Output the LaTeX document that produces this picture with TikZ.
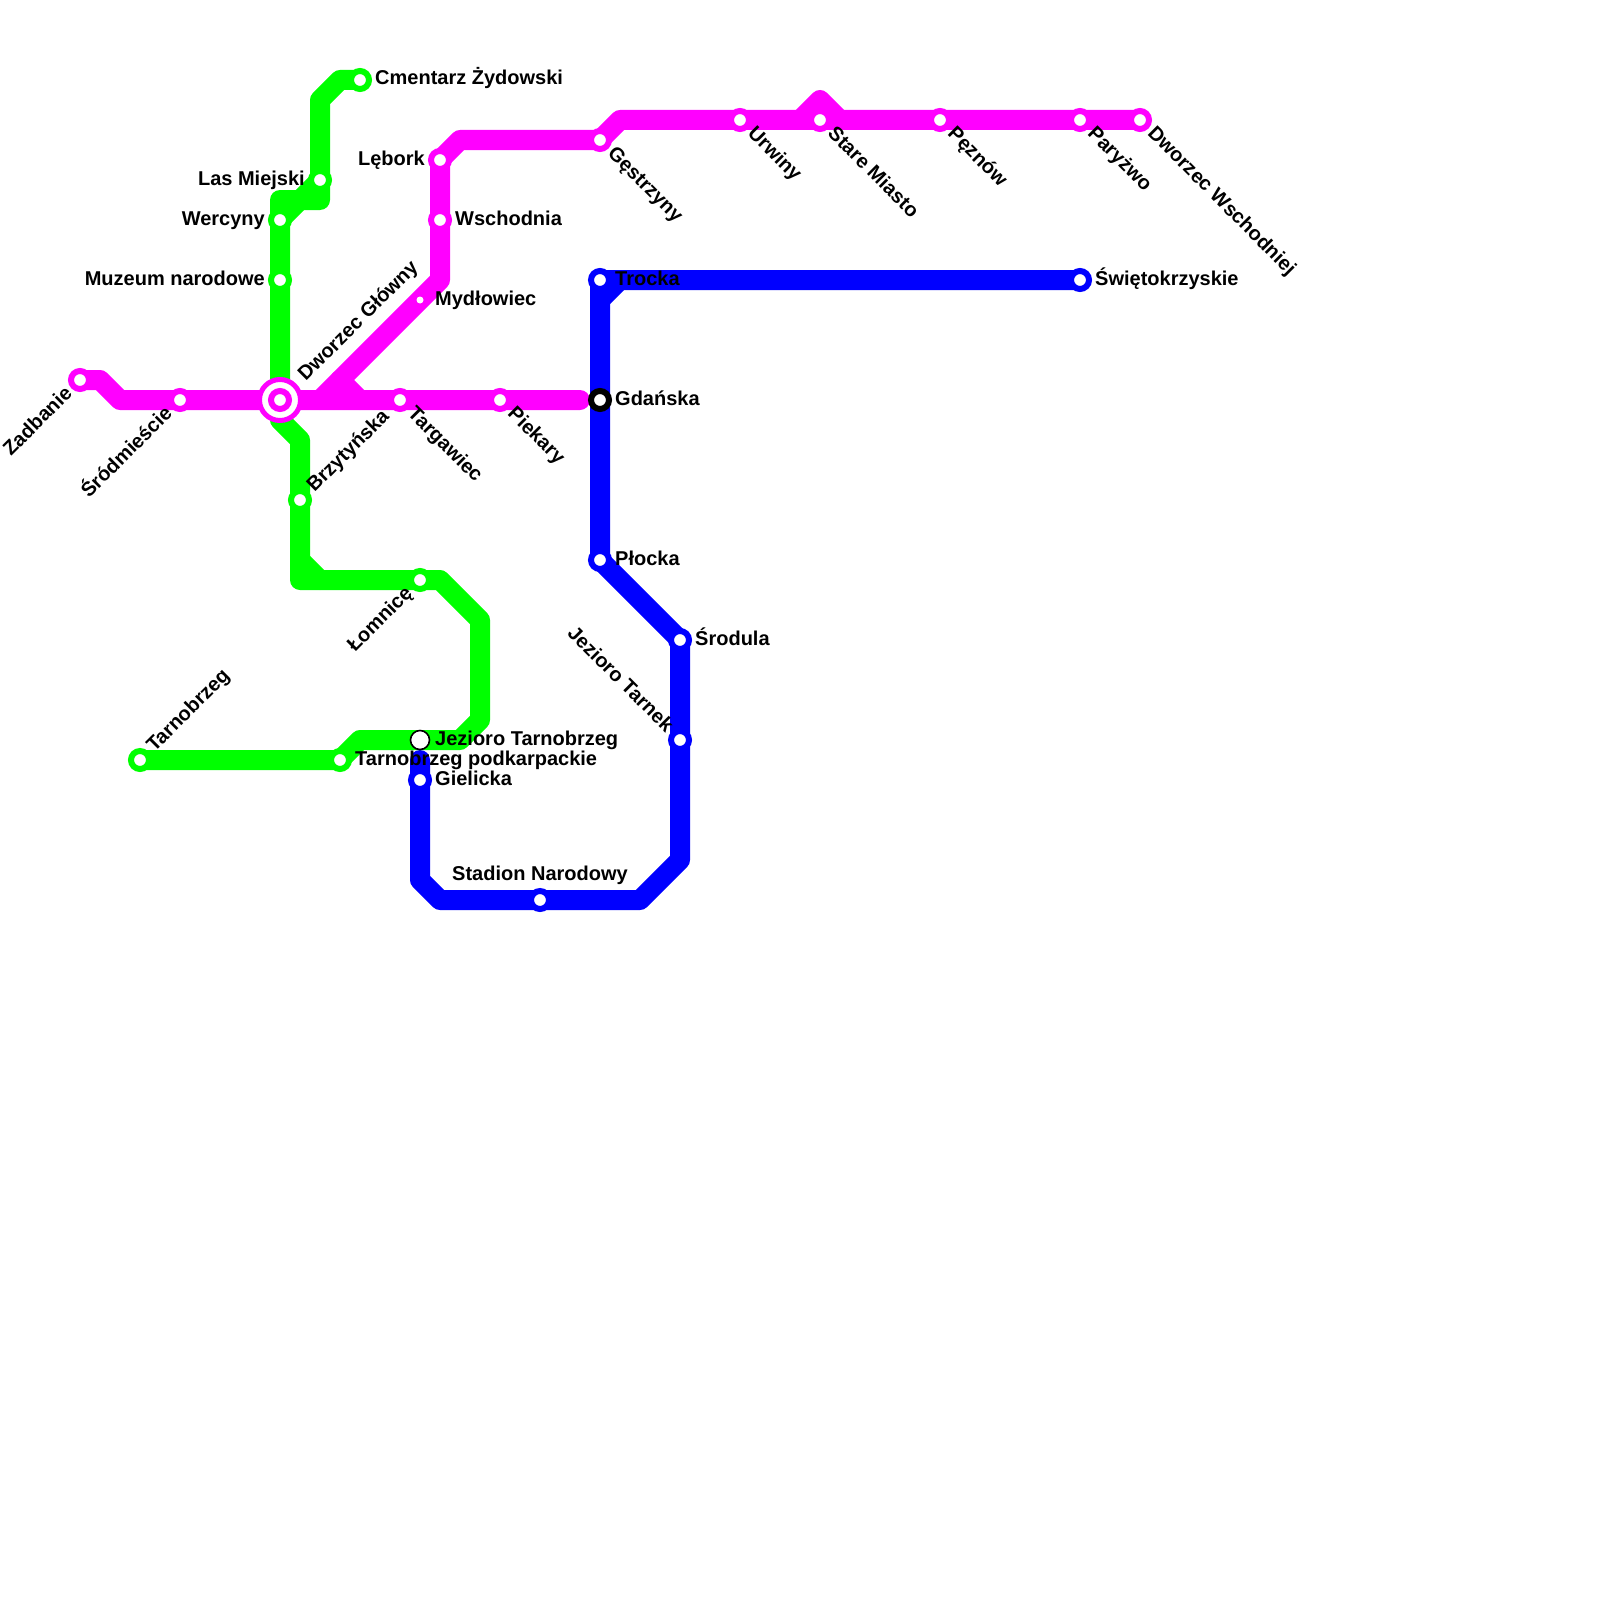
\documentclass[tikz,border=0pt]{standalone}
\usepackage{fontspec}
\setmainfont{Liberation Sans}
\usetikzlibrary{backgrounds}
\definecolor{lineM}{RGB}{255,0,255}
\definecolor{lineG}{RGB}{0,255,0}
\definecolor{lineB}{RGB}{0,0,255}
\tikzset{
  x=1pt,y=-1pt,
  metro/.style={line width=20pt,line cap=round,line join=round},
  stn/.style={circle,inner sep=0pt,outer sep=0pt,minimum size=18pt,line width=6pt,draw=#1,fill=white},
  hub/.style={circle,inner sep=0pt,outer sep=0pt,minimum size=41pt,line width=5pt,draw=lineM,fill=white},
  dotstn/.style={circle,inner sep=0pt,outer sep=0pt,minimum size=7pt,fill=white},
  opening/.style={circle,inner sep=0pt,outer sep=0pt,minimum size=19pt,line width=1.6pt,draw=black,fill=white},
  lbl/.style={font=\fontsize{20}{24}\selectfont\bfseries,inner sep=0pt,text=black},
  lblE/.style={lbl,xshift=15pt,yshift=-5pt,anchor=base west},
  lblW/.style={lbl,xshift=-15pt,yshift=-5pt,anchor=base east},
  lblNE/.style={lbl,xshift=14.5pt,yshift=7pt,rotate=45,anchor=base west},
  lblSW/.style={lbl,xshift=-6.7pt,yshift=-14.5pt,rotate=45,anchor=base east},
  lblSE/.style={lbl,xshift=6.7pt,yshift=-14.5pt,rotate=-45,anchor=base west},
  lblNW/.style={lbl,xshift=-14.5pt,yshift=6.7pt,rotate=-45,anchor=base east},
}
\begin{document}
\begin{tikzpicture}
\useasboundingbox (0,0) rectangle (1600,1600);
% stations
\node[stn=lineM] (zadbanie) at (80,380) {};
\node[stn=lineM] (srodmiescie) at (180,400) {};
\node[hub] (dworzecring) at (280,400) {};
\node[stn=lineM] (dworzec) at (280,400) {};
\node[stn=lineM] (targawiec) at (400,400) {};
\node[stn=lineM] (piekary) at (500,400) {};
\node[dotstn] (mydlowiec) at (420,300) {};
\node[stn=lineM] (wschodnia) at (440,220) {};
\node[stn=lineM] (lebork) at (440,160) {};
\node[stn=lineM] (gestrzyny) at (600,140) {};
\node[stn=lineM] (urwiny) at (740,120) {};
\node[stn=lineM] (stare) at (820,120) {};
\node[stn=lineM] (peznow) at (940,120) {};
\node[stn=lineM] (paryzwo) at (1080,120) {};
\node[stn=lineM] (wschodniej) at (1140,120) {};
\node[stn=lineG] (cmentarz) at (360,80) {};
\node[stn=lineG] (las) at (320,180) {};
\node[stn=lineG] (wercyny) at (280,220) {};
\node[stn=lineG] (muzeum) at (280,280) {};
\node[stn=lineG] (brzytynska) at (300,500) {};
\node[stn=lineG] (lomnice) at (420,580) {};
\node[stn=lineG] (tarnobrzeg) at (140,760) {};
\node[stn=lineG] (podkarp) at (340,760) {};
\node[opening] (jezioroT) at (420,740) {};
\node[stn=lineB] (trocka) at (600,280) {};
\node[stn=lineB] (swieto) at (1080,280) {};
\node[stn=black] (gdanska) at (600,400) {};
\node[stn=lineB] (plocka) at (600,560) {};
\node[stn=lineB] (srodula) at (680,640) {};
\node[stn=lineB] (tarnek) at (680,740) {};
\node[stn=lineB] (stadion) at (540,900) {};
\node[stn=lineB] (gielicka) at (420,780) {};
% free ends and bends
\coordinate (mEnd) at (580,400);
\coordinate (bEnd) at (420,760);
% lines
\begin{scope}[on background layer]
\draw[metro,lineB] (swieto.center) -- (trocka.center) -- (plocka.center) -- (srodula.center) -- (680,860) -- (640,900) -- (stadion.center) -- (440,900) -- (420,880) -- (gielicka.center) -- (bEnd);
\draw[metro,lineB] (600,300) -- (620,280);
\draw[metro,lineG] (cmentarz.center) -- (340,80) -- (320,100) -- (las.center) -- (320,200) -- (280,200) -- (wercyny.center) -- (muzeum.center) -- (dworzec.center) -- (280,420) -- (300,440) -- (brzytynska.center) -- (300,580) -- (lomnice.center) -- (440,580) -- (480,620) -- (480,720) -- (460,740) -- (360,740) -- (podkarp.center) -- (tarnobrzeg.center);
\draw[metro,lineG] (las.center) -- (wercyny.center);
\draw[metro,lineG] (300,560) -- (320,580);
\draw[metro,lineM] (zadbanie.center) -- (100,380) -- (120,400) -- (mEnd);
\draw[metro,lineM] (320,400) -- (mydlowiec.center) -- (440,280) -- (wschodnia.center) -- (lebork.center) -- (460,140) -- (gestrzyny.center) -- (620,120) -- (wschodniej.center);
\draw[metro,lineM] (340,380) -- (360,400);
\draw[metro,lineM] (800,120) -- (820,100) -- (840,120);
\end{scope}
% labels
\node[lblSW] (tZadbanie) at (zadbanie.center) {Zadbanie};
\node[lblSW] (tSrodmiescie) at (srodmiescie.center) {Śródmieście};
\node[lbl,xshift=25.8pt,yshift=18pt,rotate=45,anchor=base west] (tDworzec) at (dworzec.center) {Dworzec Główny};
\node[lblSE] (tTargawiec) at (targawiec.center) {Targawiec};
\node[lblSE] (tPiekary) at (piekary.center) {Piekary};
\node[lblE] (tMydlowiec) at (mydlowiec.center) {Mydłowiec};
\node[lblE] (tWschodnia) at (wschodnia.center) {Wschodnia};
\node[lblW] (tLebork) at (lebork.center) {Lębork};
\node[lblSE] (tGestrzyny) at (gestrzyny.center) {Gęstrzyny};
\node[lblSE] (tUrwiny) at (urwiny.center) {Urwiny};
\node[lblSE] (tStare) at (stare.center) {Stare Miasto};
\node[lblSE] (tPeznow) at (peznow.center) {Pęznów};
\node[lblSE] (tParyzwo) at (paryzwo.center) {Paryżwo};
\node[lblSE] (tWschodniej) at (wschodniej.center) {Dworzec Wschodniej};
\node[lblE] (tCmentarz) at (cmentarz.center) {Cmentarz Żydowski};
\node[lblW] (tLas) at (las.center) {Las Miejski};
\node[lblW] (tWercyny) at (wercyny.center) {Wercyny};
\node[lblW] (tMuzeum) at (muzeum.center) {Muzeum narodowe};
\node[lblNE] (tBrzytynska) at (brzytynska.center) {Brzytyńska};
\node[lblSW] (tLomnice) at (lomnice.center) {Łomnicę};
\node[lblNE] (tTarnobrzeg) at (tarnobrzeg.center) {Tarnobrzeg};
\node[lblE] (tPodkarp) at (podkarp.center) {Tarnobrzeg podkarpackie};
\node[lblE] (tJezioroT) at (jezioroT.center) {Jezioro Tarnobrzeg};
\node[lblE] (tTrocka) at (trocka.center) {Trocka};
\node[lblE] (tSwieto) at (swieto.center) {Świętokrzyskie};
\node[lblE] (tGdanska) at (gdanska.center) {Gdańska};
\node[lblE] (tPlocka) at (plocka.center) {Płocka};
\node[lblE] (tSrodula) at (srodula.center) {Środula};
\node[lblNW] (tTarnek) at (tarnek.center) {Jezioro Tarnek};
\node[lbl,yshift=20pt,anchor=base] (tStadion) at (stadion.center) {Stadion Narodowy};
\node[lblE] (tGielicka) at (gielicka.center) {Gielicka};
\end{tikzpicture}
\end{document}
